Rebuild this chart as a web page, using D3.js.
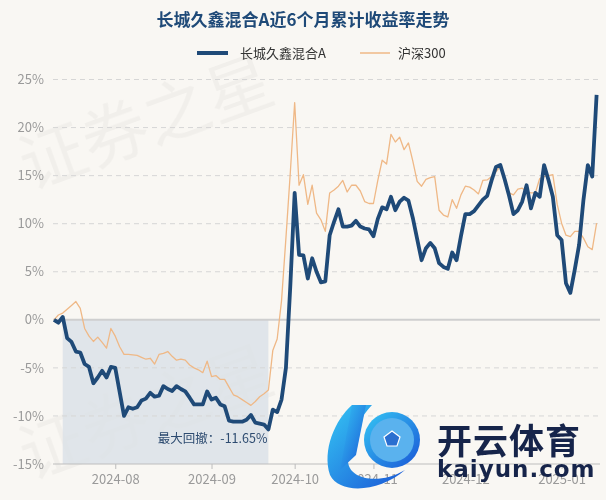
<!DOCTYPE html>
<html><head><meta charset="utf-8">
<script src="https://cdn.jsdelivr.net/npm/d3@7"></script>
<style>
html,body{margin:0;padding:0;background:#f9f7f3;}
svg{display:block;font-family:"Noto Sans CJK SC","Noto Sans",sans-serif;}
</style></head>
<body><svg id="c" width="606" height="500"></svg>
<script>
// ---- data ----
const title = "长城久鑫混合A近6个月累计收益率走势";
const seriesNames = ["长城久鑫混合A", "沪深300"];
// daily cumulative return (%) per trading day, 2024-07-12 .. 2025-01-14
const fundValues = [0.0,-0.3,0.3,-1.9,-2.3,-3.3,-3.4,-4.6,-4.9,-6.6,-6.0,-5.3,-6.0,-4.9,-5.0,-7.5,-10.0,-9.1,-9.25,-9.1,
  -8.4,-8.2,-7.6,-8.0,-7.9,-6.9,-7.2,-7.4,-6.9,-7.2,-7.45,-8.1,-8.8,-8.8,-8.8,-7.45,-8.3,-8.1,-8.8,-9.0,
  -10.5,-10.6,-10.6,-10.6,-10.4,-9.9,-10.7,-10.8,-10.9,-11.4,-9.35,-9.6,-8.3,-5.0,3.5,13.2,6.75,6.7,4.3,6.4,
  5.0,3.9,4.0,8.8,10.2,11.5,9.7,9.7,9.8,10.3,9.7,9.5,9.4,8.7,10.5,11.7,11.5,12.8,11.4,12.3,
  12.7,12.4,10.6,8.4,6.2,7.45,8.0,7.45,5.9,5.5,5.3,7.0,6.2,8.7,11.0,11.0,11.3,11.9,12.5,12.9,
  14.5,15.9,16.1,14.6,12.9,11.0,11.4,12.3,14.0,11.6,13.2,12.8,16.1,14.55,12.8,8.8,8.3,3.8,2.8,5.2,
  7.8,12.5,16.1,14.9,23.4];
const indexValues = [0.0,0.5,0.7,1.1,1.5,1.9,1.2,-0.9,-1.7,-2.25,-1.8,-2.35,-2.95,-0.9,-1.7,-2.8,-3.6,-3.6,-3.65,-3.7,
  -3.9,-4.1,-4.0,-4.6,-3.6,-3.5,-3.3,-3.8,-4.2,-4.1,-4.2,-4.7,-5.0,-5.2,-5.5,-4.3,-5.9,-5.8,-6.2,-6.2,
  -7.0,-7.8,-8.0,-8.3,-8.6,-8.9,-8.5,-8.0,-7.7,-7.3,-3.2,-2.0,2.0,8.5,15.3,22.6,14.0,15.1,12.0,14.0,
  11.1,10.4,9.2,13.2,13.5,13.9,14.5,13.3,14.0,14.0,13.4,12.3,12.1,12.1,14.5,16.6,16.2,19.3,18.5,19.0,
  17.7,18.4,16.5,14.4,13.9,14.6,14.8,14.9,11.4,10.9,10.7,12.5,11.6,13.0,13.9,13.8,13.5,13.1,14.5,14.55,
  14.9,15.4,16.0,14.4,13.2,13.0,13.6,13.7,13.3,13.2,13.2,14.7,14.9,15.0,15.1,12.0,10.05,8.8,8.65,9.2,
  9.2,8.5,7.6,7.3,10.05];
const xTickIndex = [14, 36, 55, 73, 94, 116];
const xTickLabels = ["2024-08", "2024-09", "2024-10", "2024-11", "2024-12", "2025-01"];
const yTicks = [-15, -10, -5, 0, 5, 10, 15, 20, 25];
const drawdownStart = 2, drawdownEnd = 49;
const drawdownLabel = "最大回撤：-11.65%";

// ---- chart ----
const svg = d3.select("#c");
const W = 606, H = 500;
const L = 53, R = 600;
const x = d3.scaleLinear().domain([0, fundValues.length - 1]).range([54, 596.6]);
const y = d3.scaleLinear().domain([-15, 25]).range([464, 79.5]);

svg.append("rect").attr("width", W).attr("height", H).attr("fill", "#f9f7f3");

// faint watermarks
const wm = svg.append("g").attr("fill", "#000").attr("opacity", 0.035)
  .attr("font-size", 66).attr("font-weight", 400);
[[30, 190, -20, "证券之星"], [30, 480, -20, "证券之星"]].forEach(d => {
  wm.append("text").attr("transform", `translate(${d[0]},${d[1]}) rotate(${d[2]})`).text(d[3]);
});

// drawdown shade
svg.append("rect")
  .attr("x", x(drawdownStart)).attr("y", y(0))
  .attr("width", x(drawdownEnd) - x(drawdownStart)).attr("height", y(-15) - y(0))
  .attr("fill", "#dce2e8").attr("opacity", 0.85);

// grid
svg.append("g").selectAll("line").data(yTicks.filter(t => t !== -15 && t !== 0)).join("line")
  .attr("x1", L).attr("x2", R).attr("y1", d => y(d)).attr("y2", d => y(d))
  .attr("stroke", "#d6d6d6").attr("stroke-width", 1).attr("stroke-dasharray", "5,4");
svg.append("line").attr("x1", L).attr("x2", R).attr("y1", y(0)).attr("y2", y(0))
  .attr("stroke", "#cfcfcf").attr("stroke-width", 2);

// y axis labels
const ya = svg.append("g").attr("transform", `translate(${L},0)`)
  .call(d3.axisLeft(y).tickValues(yTicks).tickFormat(d => d + "%").tickSize(0).tickPadding(9));
ya.select(".domain").remove();
ya.selectAll("text").attr("fill", "#9a9a9a").attr("font-size", 13)
  .attr("font-family", "'Noto Sans CJK SC','Noto Sans',sans-serif");

// x axis
const xa = svg.append("g").attr("transform", `translate(0,${y(-15)})`)
  .call(d3.axisBottom(x).tickValues(xTickIndex).tickFormat((d, i) => xTickLabels[i]).tickSize(5).tickPadding(6).tickSizeOuter(0));
xa.select(".domain").attr("d", `M${L},0H${R}`).attr("stroke", "#bdbdbd").attr("stroke-width", 1.2);
xa.selectAll(".tick line").attr("stroke", "#bdbdbd");
xa.selectAll("text").attr("fill", "#9a9a9a").attr("font-size", 13)
  .attr("font-family", "'Noto Sans CJK SC','Noto Sans',sans-serif");

// lines
const line = d3.line().x((d, i) => x(i)).y(d => y(d)).curve(d3.curveLinear);
svg.append("path").datum(indexValues).attr("d", line)
  .attr("fill", "none").attr("stroke", "#efb886").attr("stroke-width", 1.3).attr("stroke-linejoin", "round");
svg.append("path").datum(fundValues).attr("d", line)
  .attr("fill", "none").attr("stroke", "#1f4a78").attr("stroke-width", 3.8).attr("stroke-linejoin", "round");

// drawdown label
svg.append("text").attr("x", x(drawdownEnd) - 1).attr("y", 443).attr("text-anchor", "end")
  .attr("font-size", 12.5).attr("fill", "#2d4b70").text(drawdownLabel);

// logo watermark
const logo = svg.append("g");
const grad = svg.append("defs").append("linearGradient").attr("id", "lg").attr("x1", "0").attr("x2", "1").attr("y1", "0").attr("y2", "1");
grad.append("stop").attr("offset", "0").attr("stop-color", "#35c6f4");
grad.append("stop").attr("offset", "1").attr("stop-color", "#1a56d6");
logo.append("path").attr("d", "M352,405 C335,420 322,450 330,475 C340,495 380,492 405,470 C380,485 350,480 348,462 C346,440 360,418 372,405 Z")
  .attr("fill", "url(#lg)");
logo.append("path").attr("d", "M340,470 L352,405 L366,405 L356,455 Z").attr("fill", "url(#lg)");
logo.append("circle").attr("cx", 392).attr("cy", 440).attr("r", 28).attr("fill", "url(#lg)");
logo.append("circle").attr("cx", 392).attr("cy", 440).attr("r", 22).attr("fill", "#5ab2ee");
logo.append("path").attr("d", "M392,431 l8,6 -3,9 -10,0 -3,-9 z").attr("fill", "#2a6fd0").attr("stroke", "#fff").attr("stroke-width", 1.2);
logo.append("text").attr("x", 437).attr("y", 454).attr("font-size", 35).attr("font-weight", 700)
  .attr("fill", "#16244a").attr("letter-spacing", 1).text("开云体育");
logo.append("text").attr("x", 437).attr("y", 477).attr("font-size", 23).attr("font-weight", 700)
  .attr("fill", "#16244a").attr("font-family", "'DejaVu Sans',sans-serif").attr("letter-spacing", 1).text("kaiyun.com");

// title
svg.append("text").attr("x", 303).attr("y", 26).attr("text-anchor", "middle")
  .attr("font-size", 17).attr("font-weight", 700).attr("fill", "#1f4a78").text(title);

// legend
const lg = svg.append("g");
lg.append("line").attr("x1", 197).attr("x2", 228).attr("y1", 53).attr("y2", 53).attr("stroke", "#1f4a78").attr("stroke-width", 4);
lg.append("text").attr("x", 240).attr("y", 53).attr("dy", "0.35em").attr("font-size", 13).attr("fill", "#333").text(seriesNames[0]);
lg.append("line").attr("x1", 360).attr("x2", 390).attr("y1", 53).attr("y2", 53).attr("stroke", "#efb886").attr("stroke-width", 1.5);
lg.append("text").attr("x", 398).attr("y", 53).attr("dy", "0.35em").attr("font-size", 13).attr("fill", "#333").text(seriesNames[1]);
</script></body></html>
